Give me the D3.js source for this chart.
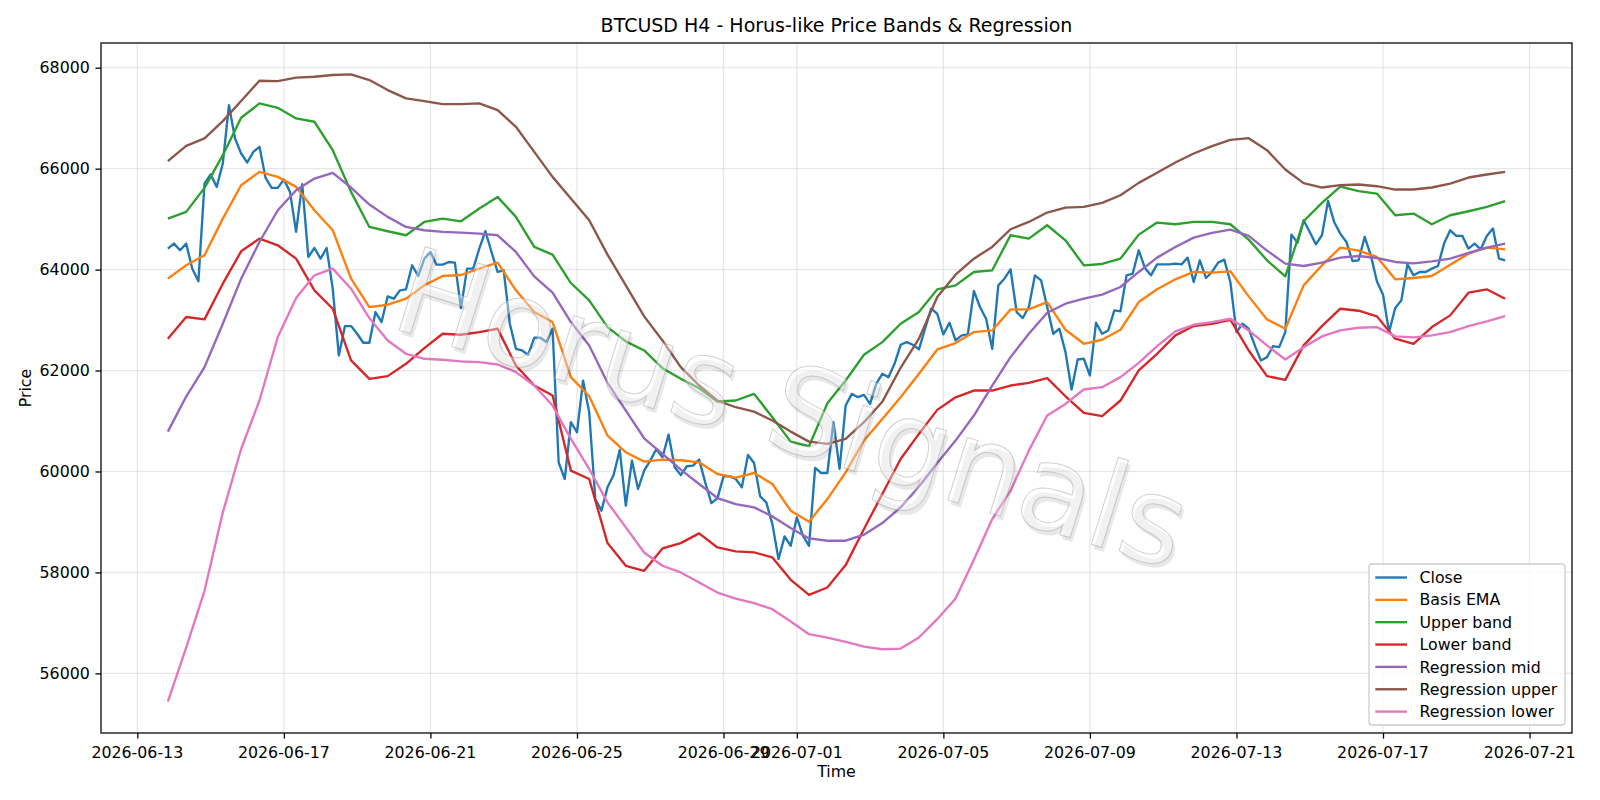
<!DOCTYPE html>
<html>
<head>
<meta charset="utf-8">
<script src="https://cdn.jsdelivr.net/npm/d3@7/dist/d3.min.js"></script>
<style>
  body { margin: 0; background: #fff; }
  text { font-family: "DejaVu Sans", sans-serif; }
</style>
</head>
<body>
<div id="chart"></div>
<script>
// H4 bars, first bar 2026-06-13 20:00 UTC
const barHours = 4;
const firstBar = Date.UTC(2026, 5, 13, 20);

// close, one value per bar
const closeValues = [
  64415, 64515, 64382, 64515, 64018, 63767, 65705, 65884, 65639, 66102,
  67259, 66598, 66300, 66122, 66333, 66433, 65817, 65619, 65619, 65784,
  65540, 64746, 65692, 64250, 64428, 64217, 64428, 63622, 62299, 62881,
  62881, 62729, 62550, 62550, 63159, 62960, 63470, 63423, 63589, 63609,
  64085, 63873, 64217, 64349, 64098, 64098, 64151, 64138, 63238, 64019,
  64019, 64415, 64760, 64349, 63953, 63986, 62927, 62431, 62398, 62312,
  62649, 62649, 62564, 62828, 60182, 59851, 60976, 60777, 61800, 61174,
  59454, 59223, 59686, 59930, 60427, 59322, 60215, 59653, 60017, 60215,
  60446, 60281, 60731, 60083, 59930, 60103, 60116, 60235, 59785, 59375,
  59468, 59904, 59904, 59851, 59686, 60327, 60169, 59507, 59388, 58958,
  58264, 58714, 58528, 59091, 58727, 58528, 60070, 59970, 59970, 60976,
  60050, 61306, 61538, 61472, 61518, 61340, 61737, 61935, 61869, 62133,
  62510, 62563, 62510, 62418, 62828, 63225, 63125, 62716, 62947, 62596,
  62696, 62716, 63575, 63258, 63026, 62431, 63688, 63820, 64005, 63159,
  63040, 63258, 63886, 63787, 63258, 62729, 62828, 62365, 61624, 62219,
  62233, 61902, 62947, 62729, 62795, 63192, 63172, 63886, 63919, 64382,
  64032, 63886, 64104, 64104, 64104, 64118, 64104, 64237, 63754, 64184,
  63834, 63953, 64138, 64197, 63754, 62762, 62927, 62828, 62498, 62200,
  62266, 62484, 62464, 62762, 64693, 64534, 64977, 64746, 64501, 64680,
  65361, 64944, 64713, 64547, 64170, 64184, 64647, 64283, 63767, 63503,
  62762, 63238, 63390, 64104, 63886, 63953, 63953, 64019, 64071, 64515,
  64779, 64667, 64667, 64415, 64515, 64402, 64667, 64812, 64217, 64184
];

// smoother series, read every 3rd bar
const bandStep = 3;

const basisEma = [
  63820, 64085, 64283, 65010, 65672, 65936, 65837, 65639, 65176, 64779,
  63820, 63258, 63304, 63423, 63688, 63873, 63893, 64019, 64138, 63589,
  63159, 62960, 61869, 61490, 60711, 60380, 60195, 60235, 60222, 60182,
  59950, 59878, 59970, 59752, 59223, 59005, 59454, 59984, 60612, 61042,
  61470, 61935, 62418, 62544, 62762, 62795, 63211, 63211, 63357, 62808,
  62530, 62610, 62808, 63357, 63609, 63807, 63953, 63939, 63966, 63469,
  63013, 62828, 63688, 64085, 64435, 64376, 64250, 63807, 63834, 63873,
  64098, 64316, 64435, 64402
];

const upperBand = [
  65010, 65143, 65619, 66267, 67008, 67292, 67206, 66995, 66929, 66366,
  65540, 64845, 64760, 64680, 64944, 65010, 64957, 65209, 65440, 65044,
  64449, 64296, 63734, 63390, 62861, 62577, 62398, 62047, 61836, 61650,
  61386, 61406, 61538, 61075, 60592, 60500, 61350, 61803, 62312, 62563,
  62927, 63159, 63608, 63688, 63953, 63986, 64680, 64614, 64878, 64580,
  64085, 64111, 64217, 64693, 64931, 64898, 64944, 64944, 64898, 64594,
  64184, 63866, 64957, 65321, 65645, 65553, 65506, 65077, 65110, 64898,
  65077, 65156, 65242, 65355
];

const lowerBand = [
  62630, 63060, 63013, 63721, 64362, 64614, 64481, 64217, 63589, 63225,
  62200, 61836, 61889, 62133, 62444, 62729, 62709, 62762, 62828, 62100,
  61703, 61505, 60017, 59851, 58581, 58132, 58032, 58475, 58581, 58773,
  58495, 58416, 58396, 58297, 57854, 57556, 57702, 58145, 58859, 59554,
  60248, 60744, 61220, 61470, 61604, 61604, 61703, 61756, 61849, 61490,
  61161, 61095, 61406, 62001, 62332, 62696, 62881, 62927, 63006, 62398,
  61889, 61816, 62498, 62881, 63225, 63185, 63073, 62630, 62530, 62861,
  63093, 63542, 63609, 63423
];

const regressionMid = [
  60790, 61485, 62067, 62927, 63820, 64547, 65176, 65573, 65804, 65917,
  65626, 65288, 65044, 64845, 64779, 64746, 64733, 64713, 64680, 64349,
  63866, 63542, 62960, 62497, 61757, 61207, 60658, 60347, 60036, 59752,
  59474, 59355, 59289, 59110, 58879, 58674, 58628, 58628, 58747, 58978,
  59289, 59699, 60169, 60612, 61108, 61700, 62266, 62729, 63145, 63324,
  63423, 63503, 63655, 63953, 64237, 64449, 64634, 64726, 64792, 64667,
  64376, 64118, 64071, 64138, 64237, 64270, 64230, 64151, 64124, 64164,
  64217, 64329, 64435, 64515
];

const regressionUpper = [
  66148, 66452, 66598, 66942, 67339, 67742, 67735, 67802, 67821, 67855,
  67868, 67755, 67557, 67392, 67339, 67279, 67279, 67292, 67160, 66829,
  66333, 65837, 65407, 64977, 64296, 63688, 63073, 62596, 62067, 61703,
  61405, 61273, 61187, 61009, 60790, 60592, 60546, 60645, 60976, 61380,
  62054, 62630, 63456, 63899, 64217, 64449, 64799, 64944, 65130, 65229,
  65242, 65321, 65473, 65718, 65917, 66122, 66300, 66446, 66571, 66604,
  66366, 65983, 65712, 65626, 65672, 65685, 65652, 65586, 65586, 65626,
  65705, 65824, 65884, 65936
];

const regressionLower = [
  55440, 56511, 57636, 59190, 60446, 61406, 62663, 63436, 63886, 64019,
  63622, 63040, 62596, 62332, 62233, 62213, 62180, 62167, 62120, 61968,
  61703, 61306, 60645, 60050, 59388, 58892, 58396, 58132, 58000, 57801,
  57602, 57483, 57391, 57272, 57027, 56776, 56710, 56624, 56531, 56478,
  56491, 56710, 57074, 57483, 58251, 59058, 59620, 60413, 61108, 61339,
  61624, 61670, 61869, 62153, 62484, 62775, 62907, 62960, 63026, 62795,
  62498, 62219, 62464, 62676, 62795, 62848, 62861, 62676, 62656, 62696,
  62762, 62881, 62973, 63079
];

const xTickLabels = [
  "2026-06-13", "2026-06-17", "2026-06-21", "2026-06-25", "2026-06-29", "2026-07-01",
  "2026-07-05", "2026-07-09", "2026-07-13", "2026-07-17", "2026-07-21"
];
const yTickValues = [56000, 58000, 60000, 62000, 64000, 66000, 68000];

const series = [
  { name: "Close", color: "#1f77b4", values: closeValues, step: 1 },
  { name: "Basis EMA", color: "#ff7f0e", values: basisEma, step: bandStep },
  { name: "Upper band", color: "#2ca02c", values: upperBand, step: bandStep },
  { name: "Lower band", color: "#d62728", values: lowerBand, step: bandStep },
  { name: "Regression mid", color: "#9467bd", values: regressionMid, step: bandStep },
  { name: "Regression upper", color: "#8c564b", values: regressionUpper, step: bandStep },
  { name: "Regression lower", color: "#e377c2", values: regressionLower, step: bandStep }
];

const width = 1600;
const height = 800;
const padding = { top: 43, right: 28, bottom: 67, left: 101 };
const innerWidth = width - padding.left - padding.right;
const innerHeight = height - padding.top - padding.bottom;

// sizes in px for a 14x7in figure at ~114 dpi
const fontSize = 15.8;
const titleSize = 19;
const lineWidth = 2.35;
const thinWidth = 1.27;
const tickLen = 5.6;

function barTime(i) {
  return new Date(firstBar + i * barHours * 3600 * 1000);
}

// turn each series into {t, v} points
series.forEach((s) => {
  s.points = s.values.map((v, k) => ({ t: barTime(k * s.step), v }));
});

const allPoints = series.flatMap((s) => s.points);

// matplotlib-like 5% margins on both axes
function padExtent([lo, hi], frac) {
  const pad = (hi - lo) * frac;
  return [lo - pad, hi + pad];
}

const tExtent = d3.extent(allPoints, (d) => +d.t);
const vExtent = d3.extent(allPoints, (d) => d.v);

const x = d3.scaleUtc().domain(padExtent(tExtent, 0.05)).range([0, innerWidth]);
const y = d3.scaleLinear().domain(padExtent(vExtent, 0.05)).range([innerHeight, 0]);

const svg = d3
  .select("#chart")
  .append("svg")
  .attr("width", width)
  .attr("height", height)
  .style("display", "block");

svg.append("rect").attr("width", width).attr("height", height).attr("fill", "#fff");

svg
  .append("text")
  .attr("x", padding.left + innerWidth / 2)
  .attr("y", 32)
  .attr("text-anchor", "middle")
  .attr("font-size", titleSize)
  .attr("fill", "#000")
  .text("BTCUSD H4 - Horus-like Price Bands & Regression");

const g = svg.append("g").attr("transform", `translate(${padding.left}, ${padding.top})`);

const xTicks = xTickLabels.map((s) => new Date(s + "T00:00:00Z"));

// grid
const grid = g.append("g").attr("class", "grid");
grid
  .selectAll("line.gx")
  .data(xTicks)
  .join("line")
  .attr("class", "gx")
  .attr("x1", (d) => x(d))
  .attr("x2", (d) => x(d))
  .attr("y1", 0)
  .attr("y2", innerHeight);
grid
  .selectAll("line.gy")
  .data(yTickValues)
  .join("line")
  .attr("class", "gy")
  .attr("x1", 0)
  .attr("x2", innerWidth)
  .attr("y1", (d) => y(d))
  .attr("y2", (d) => y(d));
grid.selectAll("line").attr("stroke", "#b0b0b0").attr("stroke-opacity", 0.3).attr("stroke-width", thinWidth);

// series lines
const clipId = "plot-clip";
g.append("clipPath").attr("id", clipId).append("rect").attr("width", innerWidth).attr("height", innerHeight);

const line = d3
  .line()
  .x((d) => x(d.t))
  .y((d) => y(d.v));

g.append("g")
  .attr("clip-path", `url(#${clipId})`)
  .selectAll("path")
  .data(series)
  .join("path")
  .attr("d", (s) => line(s.points))
  .attr("fill", "none")
  .attr("stroke", (s) => s.color)
  .attr("stroke-width", lineWidth)
  .attr("stroke-linejoin", "round")
  .attr("stroke-linecap", "butt");

// watermark over the lines: faint glyphs with a soft offset shadow
const wm = g.append("g").attr("transform", `translate(${780 - padding.left}, ${448 - padding.top}) rotate(17.2)`);
wm.append("text")
  .attr("x", 3.5)
  .attr("y", 3.5)
  .attr("text-anchor", "middle")
  .attr("font-size", 120)
  .attr("fill", "#000")
  .attr("fill-opacity", 0.09)
  .text("Horus Signals");
wm.append("text")
  .attr("text-anchor", "middle")
  .attr("font-size", 120)
  .attr("fill", "#fff")
  .attr("fill-opacity", 0.4)
  .attr("stroke", "#9a9a9a")
  .attr("stroke-opacity", 0.45)
  .attr("stroke-width", 1)
  .text("Horus Signals");

// axes: d3 ticks, labels placed on the same scales
const xAxis = d3.axisBottom(x).tickValues(xTicks).tickSize(tickLen).tickFormat("");
const yAxis = d3.axisLeft(y).tickValues(yTickValues).tickSize(tickLen).tickFormat("");

const gx = g.append("g").attr("transform", `translate(0, ${innerHeight})`).call(xAxis);
const gy = g.append("g").call(yAxis);
[gx, gy].forEach((a) => {
  a.select(".domain").remove();
  a.selectAll(".tick text").remove();
  a.selectAll(".tick line").attr("stroke", "#000").attr("stroke-width", thinWidth);
});

const fmtDate = d3.utcFormat("%Y-%m-%d");
svg
  .append("g")
  .selectAll("text")
  .data(xTicks)
  .join("text")
  .attr("x", (d) => padding.left + x(d))
  .attr("y", 758)
  .attr("text-anchor", "middle")
  .attr("font-size", fontSize)
  .text((d) => fmtDate(d));

svg
  .append("g")
  .selectAll("text")
  .data(yTickValues)
  .join("text")
  .attr("x", padding.left - tickLen - 5.6)
  .attr("y", (d) => padding.top + y(d) + 5.7)
  .attr("text-anchor", "end")
  .attr("font-size", fontSize)
  .text((d) => d3.format("d")(d));

// frame
g.append("rect")
  .attr("width", innerWidth)
  .attr("height", innerHeight)
  .attr("fill", "none")
  .attr("stroke", "#000")
  .attr("stroke-width", thinWidth);

svg
  .append("text")
  .attr("x", padding.left + innerWidth / 2)
  .attr("y", 777)
  .attr("text-anchor", "middle")
  .attr("font-size", fontSize)
  .text("Time");

svg
  .append("text")
  .attr("transform", `translate(31, ${padding.top + innerHeight / 2}) rotate(-90)`)
  .attr("text-anchor", "middle")
  .attr("font-size", fontSize)
  .text("Price");

// legend
const legend = svg.append("g").attr("transform", "translate(1369, 564)");
legend
  .append("rect")
  .attr("width", 196)
  .attr("height", 161)
  .attr("rx", 3)
  .attr("fill", "#fff")
  .attr("fill-opacity", 0.8)
  .attr("stroke", "#cccccc")
  .attr("stroke-width", thinWidth);

const rows = legend
  .selectAll("g.row")
  .data(series)
  .join("g")
  .attr("class", "row")
  .attr("transform", (d, i) => `translate(0, ${13.5 + i * 22.35})`);
rows
  .append("line")
  .attr("x1", 6.3)
  .attr("x2", 38)
  .attr("stroke", (d) => d.color)
  .attr("stroke-width", lineWidth);
rows
  .append("text")
  .attr("x", 50.5)
  .attr("y", 5.6)
  .attr("font-size", fontSize)
  .text((d) => d.name);
</script>
</body>
</html>
